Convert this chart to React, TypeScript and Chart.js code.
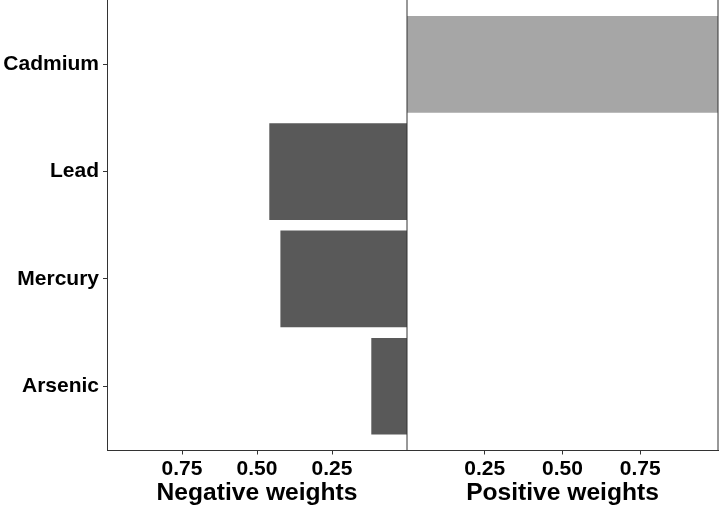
import React, { useEffect, useRef } from 'react';
import { Chart, registerables } from 'chart.js';

Chart.register(...registerables);

const categories = ['Cadmium', 'Lead', 'Mercury', 'Arsenic'];
const negativeWeights: (number | null)[] = [null, 0.459, 0.422, 0.119];
const positiveWeights: (number | null)[] = [1.0, null, null, null];
const xTickValues = [0.25, 0.5, 0.75];
const xTickLabels = ['0.25', '0.50', '0.75'];
const negativeTitle = 'Negative weights';
const positiveTitle = 'Positive weights';

const FONT = "'Liberation Sans', Arial, sans-serif";
const LINE = '#333333';

const toPoints = (arr: (number | null)[]) =>
  arr
    .map((v, i) => (v == null ? null : { x: v, y: i }))
    .filter((p) => p !== null) as { x: number; y: number }[];

const panelLines = {
  id: 'panelLines',
  afterDatasetsDraw(chart: any) {
    const { ctx, chartArea, scales } = chart;
    const xp = scales.xPos;
    if (!xp) return;
    ctx.save();
    ctx.strokeStyle = LINE;
    ctx.lineWidth = 1;
    const xs = [xp.getPixelForValue(0), xp.right];
    xs.forEach((x: number) => {
      ctx.beginPath();
      ctx.moveTo(x, chartArea.top);
      ctx.lineTo(x, chartArea.bottom);
      ctx.stroke();
    });
    ctx.restore();
  },
};

const xAxis = (title: string, reverse: boolean, weight: number) => ({
  type: 'linear' as const,
  position: 'bottom' as const,
  stack: 'panels',
  stackWeight: weight,
  reverse,
  min: 0,
  max: 1,
  offset: false,
  afterBuildTicks: (scale: any) => {
    scale.ticks = xTickValues.map((v) => ({ value: v }));
  },
  afterFit: (scale: any) => {
    scale.height = 57.5;
    scale.paddingLeft = 0;
    scale.paddingRight = 0;
  },
  ticks: {
    autoSkip: false,
    maxRotation: 0,
    padding: 2,
    color: '#000000',
    font: { family: FONT, size: 21, weight: 'bold' as const },
    callback: (v: any) => {
      const i = xTickValues.indexOf(Number(v));
      return i >= 0 ? xTickLabels[i] : '';
    },
  },
  grid: {
    drawOnChartArea: false,
    drawTicks: true,
    tickLength: 4,
    tickColor: LINE,
  },
  border: { display: true, color: LINE, width: 1 },
  title: {
    display: true,
    text: title,
    color: '#000000',
    font: { family: FONT, size: 24.6, weight: 'bold' as const },
    padding: { top: 0, bottom: 0 },
  },
});

export default function App() {
  const ref = useRef<HTMLCanvasElement | null>(null);

  useEffect(() => {
    if (!ref.current) return;
    const chart = new Chart(ref.current, {
      type: 'bar',
      data: {
        datasets: [
          {
            label: 'Negative',
            data: toPoints(negativeWeights) as any,
            xAxisID: 'xNeg',
            yAxisID: 'y',
            backgroundColor: '#595959',
            grouped: false,
            barPercentage: 0.9,
            categoryPercentage: 1.0,
          },
          {
            label: 'Positive',
            data: toPoints(positiveWeights) as any,
            xAxisID: 'xPos',
            yAxisID: 'y',
            backgroundColor: '#A6A6A6',
            grouped: false,
            barPercentage: 0.9,
            categoryPercentage: 1.0,
          },
        ],
      },
      options: {
        indexAxis: 'y',
        animation: false,
        responsive: false,
        maintainAspectRatio: false,
        layout: { padding: { top: 0, right: 2, bottom: 0, left: 0 } },
        plugins: {
          legend: { display: false },
          tooltip: { enabled: false },
        },
        scales: {
          y: {
            type: 'linear',
            position: 'left',
            min: -0.6,
            max: 3.6,
            reverse: true,
            offset: false,
            afterBuildTicks: (scale: any) => {
              scale.ticks = categories.map((_, i) => ({ value: i }));
            },
            afterFit: (scale: any) => {
              scale.width = 107;
              scale.paddingTop = 0;
              scale.paddingBottom = 0;
            },
            ticks: {
              autoSkip: false,
              padding: 4,
              color: '#000000',
              font: { family: FONT, size: 21, weight: 'bold' },
              callback: (v: any) => categories[Number(v)] ?? '',
            },
            grid: {
              offset: false,
              drawOnChartArea: false,
              drawTicks: true,
              tickLength: 4,
              tickColor: LINE,
            },
            border: { display: true, color: LINE, width: 1 },
          },
          xNeg: xAxis(negativeTitle, true, 300) as any,
          xPos: xAxis(positiveTitle, false, 311) as any,
        },
      },
      plugins: [panelLines],
    });
    return () => chart.destroy();
  }, []);

  return (
    <div style={{ position: 'fixed', left: 0, top: 0, width: 720, height: 508, background: '#ffffff' }}>
      <canvas ref={ref} width={720} height={508} style={{ width: 720, height: 508, display: 'block' }} />
    </div>
  );
}
